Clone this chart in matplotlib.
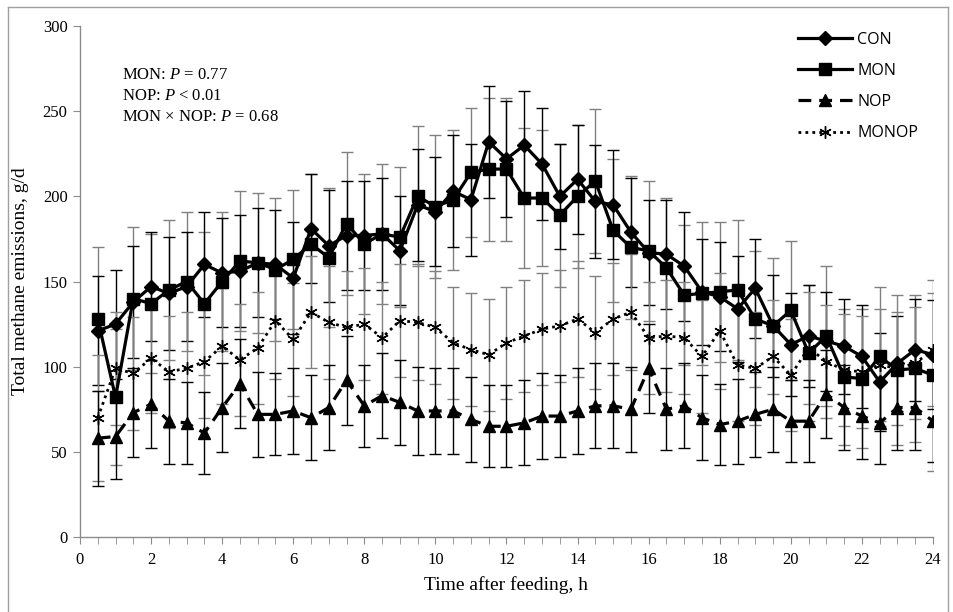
import matplotlib
matplotlib.use("Agg")
import matplotlib.pyplot as plt
from matplotlib.lines import Line2D
import numpy as np

plt.rcParams['font.family'] = ['Liberation Serif', 'DejaVu Serif']
plt.rcParams['mathtext.fontset'] = 'custom'
plt.rcParams['mathtext.rm'] = 'Liberation Serif'
plt.rcParams['mathtext.it'] = 'Liberation Serif:italic'

hours = [0.5, 1, 1.5, 2, 2.5, 3, 3.5, 4, 4.5, 5, 5.5, 6, 6.5, 7, 7.5, 8,
         8.5, 9, 9.5, 10, 10.5, 11, 11.5, 12, 12.5, 13, 13.5, 14, 14.5, 15, 15.5, 16,
         16.5, 17, 17.5, 18, 18.5, 19, 19.5, 20, 20.5, 21, 21.5, 22, 22.5, 23, 23.5, 24]

con = [121, 125, 138, 147, 143, 147, 160, 155, 156, 161, 160, 152, 181, 171, 177, 177,
       178, 168, 195, 191, 203, 198, 232, 222, 230, 219, 200, 210, 197, 195, 179, 167,
       166, 159, 144, 141, 134, 146, 124, 113, 118, 115, 112, 106, 91, 102, 110, 107]
mon = [128, 82, 140, 137, 145, 150, 137, 150, 162, 161, 157, 163, 172, 164, 184, 172,
       178, 176, 200, 194, 198, 214, 216, 216, 199, 199, 189, 200, 209, 180, 170, 168,
       158, 142, 143, 144, 145, 128, 124, 133, 108, 118, 94, 93, 106, 98, 99, 95]
nop = [58, 59, 73, 78, 68, 67, 61, 76, 90, 72, 72, 74, 70, 76, 92, 77,
       83, 79, 74, 74, 74, 69, 65, 65, 67, 71, 71, 74, 77, 77, 75, 99,
       75, 77, 70, 66, 68, 72, 75, 68, 68, 84, 76, 71, 67, 76, 76, 68]
monop = [70, 99, 96, 105, 97, 99, 103, 112, 104, 111, 127, 116, 132, 126, 123, 125,
         117, 127, 126, 123, 114, 110, 107, 114, 118, 122, 124, 128, 120, 128, 132, 117,
         118, 117, 106, 121, 101, 99, 106, 95, 111, 103, 98, 97, 101, 99, 102, 110]

con_err = [32, 32, 33, 32, 33, 32, 31, 32, 33, 32, 32, 33, 32, 33, 32, 32,
           33, 32, 33, 32, 33, 33, 33, 34, 32, 33, 31, 32, 33, 32, 32, 31,
           32, 32, 31, 32, 31, 29, 30, 30, 30, 29, 28, 30, 29, 28, 30, 32]
mon_err = [42, 40, 42, 41, 41, 41, 42, 41, 41, 41, 42, 41, 41, 41, 42, 41,
           41, 41, 41, 42, 41, 38, 42, 42, 41, 40, 42, 42, 42, 42, 42, 41,
           41, 41, 42, 41, 41, 40, 40, 41, 40, 41, 40, 41, 41, 44, 43, 56]
nop_err = [28, 25, 26, 26, 25, 24, 24, 26, 26, 25, 24, 25, 25, 25, 26, 24,
           25, 25, 26, 25, 25, 25, 24, 24, 25, 25, 24, 25, 25, 25, 25, 26,
           24, 25, 25, 24, 25, 25, 25, 24, 24, 26, 25, 25, 24, 25, 25, 24]
monop_err = [37, 33, 33, 32, 33, 33, 33, 34, 33, 33, 34, 33, 33, 33, 33, 33,
             33, 33, 34, 33, 33, 33, 33, 33, 33, 33, 33, 34, 33, 33, 34, 33,
             33, 33, 33, 34, 33, 33, 33, 33, 33, 33, 33, 33, 33, 33, 33, 33]

stats_lines = [r'MON: $\mathit{P}$ = 0.77',
               r'NOP: $\mathit{P}$ < 0.01',
               r'MON × NOP: $\mathit{P}$ = 0.68']

fig = plt.figure(figsize=(9.54, 6.12), dpi=100)
ax = fig.add_axes([80/954, 75/612, 853/954, 511/612])

gray = '#8c8c8c'
ekw = dict(fmt='none', capsize=4, elinewidth=1, capthick=1, zorder=1)
ax.errorbar(hours, mon, yerr=mon_err, ecolor='#808080', **ekw)
ax.errorbar(hours, con, yerr=con_err, ecolor='black', **ekw)
ax.errorbar(hours, monop, yerr=monop_err, ecolor='#808080', **ekw)
ax.errorbar(hours, nop, yerr=nop_err, ecolor='black', **ekw)

star = (6, 2, 0)
ax.plot(hours, monop, color='black', linestyle=(0, (1, 1.5)), linewidth=2,
        marker=star, markersize=9, markeredgewidth=1, zorder=3, label='MONOP')
ax.plot(hours, nop, color='black', linestyle=(0, (4, 2.5)), linewidth=2.3,
        marker='^', markersize=8, zorder=3, label='NOP')
ax.plot(hours, mon, color='black', linestyle='-', linewidth=2.3,
        marker='s', markersize=8, zorder=4, label='MON')
ax.plot(hours, con, color='black', linestyle='-', linewidth=2.3,
        marker='D', markersize=7.5, zorder=5, label='CON')

ax.set_xlim(0, 24)
ax.set_ylim(0, 300)
ax.set_xticks(np.arange(0, 25, 2))
ax.set_xticks(np.arange(0, 24.01, 0.5), minor=True)
ax.set_yticks(np.arange(0, 301, 50))
ax.tick_params(axis='both', which='both', direction='out', color=gray, labelsize=12)
ax.tick_params(axis='x', which='major', length=5, pad=6)
ax.tick_params(axis='x', which='minor', length=5)
ax.tick_params(axis='y', which='major', length=5, pad=4)
for s in ['top', 'right']:
    ax.spines[s].set_visible(False)
for s in ['left', 'bottom']:
    ax.spines[s].set_color(gray)
    ax.spines[s].set_linewidth(1)

ax.set_xlabel('Time after feeding, h', fontsize=14, labelpad=6)
ax.set_ylabel('Total methane emissions, g/d', fontsize=14, labelpad=10)

for i, s in enumerate(stats_lines):
    ax.text(0.049, 0.904 - i * 0.041, s, transform=ax.transAxes, fontsize=12, va='center')

handles, labels = ax.get_legend_handles_labels()
order = [3, 2, 1, 0]
leg = ax.legend([handles[i] for i in order], [labels[i] for i in order],
                loc='upper left', bbox_to_anchor=(0.825, 1.017), frameon=False,
                prop={'family': 'Open Sans', 'size': 11.5}, handlelength=3.4,
                labelspacing=0.95, handletextpad=0.3)

# figure border
fig.add_artist(Line2D([8/954, 8/954], [0, 1 - 7/612], transform=fig.transFigure, color='#a0a0a0', lw=1))
fig.add_artist(Line2D([8/954, 948/954], [1 - 7/612, 1 - 7/612], transform=fig.transFigure, color='#a0a0a0', lw=1))
fig.add_artist(Line2D([948/954, 948/954], [0, 1 - 7/612], transform=fig.transFigure, color='#a0a0a0', lw=1))

fig.savefig('out.png', dpi=100)
